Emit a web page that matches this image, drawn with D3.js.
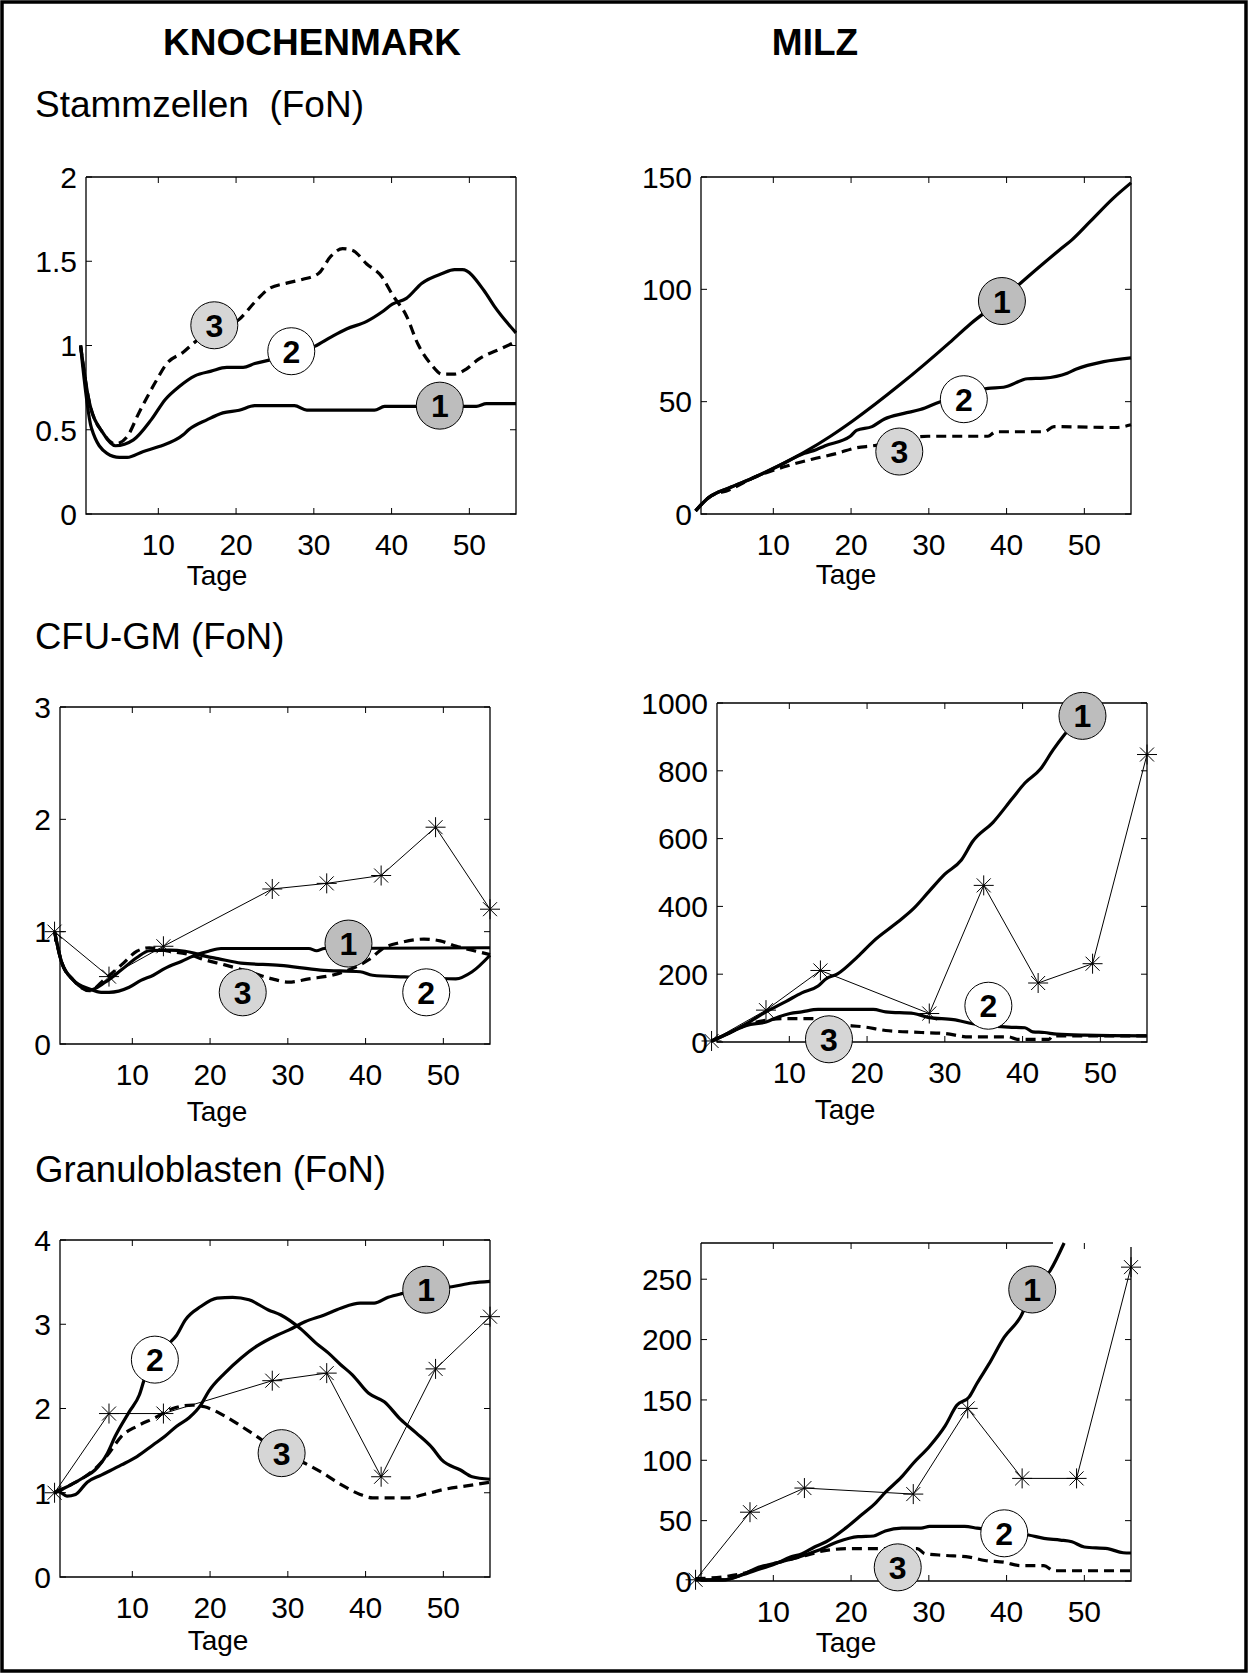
<!DOCTYPE html>
<html><head><meta charset="utf-8">
<script src="https://cdn.jsdelivr.net/npm/d3@7"></script>
<style>
body{margin:0;background:#fff}
svg{display:block}
text{font-family:"Liberation Sans",Arial,Helvetica,sans-serif;fill:#000}
</style>
</head><body>
<svg id="c" width="1250" height="1674"></svg>
<script>
// ---------- data (day, value) ----------
const xTicks = [10, 20, 30, 40, 50];
const starDays = [0, 7, 14, 28, 35, 42, 49, 56];

// Knochenmark – Stammzellen
const kmStamm1 = [[0,1.0],[1.4,0.51],[3.4,0.36],[5,0.336],[6,0.336],[8,0.37],[10.1,0.40],[13.2,0.47],[13.9,0.50],[16.3,0.56],[18.3,0.60],[20.4,0.616],[22.4,0.643],[27.5,0.643],[29.1,0.616],[37.8,0.616],[39.1,0.639],[50.9,0.639],[52.2,0.655],[56,0.655]];
const kmStamm2 = [[0,1.0],[1.1,0.67],[2.9,0.48],[4.5,0.405],[6.8,0.44],[9.1,0.56],[10.9,0.68],[12.7,0.757],[14.7,0.82],[16.8,0.848],[18.8,0.87],[20.9,0.87],[22.4,0.893],[24.5,0.916],[27,0.95],[30.1,0.995],[32.2,1.05],[34.2,1.098],[36.8,1.143],[38.8,1.2],[40.1,1.245],[41.9,1.28],[43.9,1.37],[46.5,1.427],[48.1,1.45],[49.1,1.45],[51.9,1.325],[53.2,1.234],[56,1.075]];
const kmStamm3 = [[0,1.0],[1.1,0.67],[2.9,0.48],[4.5,0.416],[6,0.46],[7.5,0.6],[9.6,0.78],[11.1,0.893],[13.2,0.96],[14.7,1.02],[17,1.09],[20.4,1.155],[22.4,1.257],[24.2,1.336],[26.5,1.37],[28.6,1.393],[30.6,1.427],[32.2,1.53],[33.7,1.575],[35,1.564],[36.8,1.484],[38.8,1.405],[40.1,1.302],[41.9,1.177],[43.4,1.007],[45,0.893],[46.5,0.83],[48.1,0.83],[49.6,0.86],[51.1,0.916],[54.2,0.984],[56,1.023]];
const kmStammTicks = [0, 0.5, 1, 1.5, 2];
const kmStammLabels = [[46.2,0.643],[27.1,0.966],[17.2,1.12]];

// Milz – Stammzellen
const mzStamm1 = [[0,1.4],[1.7,7.3],[4.3,11.6],[7.3,15.9],[10.9,21.8],[14,27.5],[17.3,34.5],[20.2,41.4],[26.3,57.6],[32.7,76.4],[35.3,84.5],[39.4,95.5],[42.7,105.5],[46.8,117.5],[48.4,122],[50.7,130],[53.7,140.5],[56,147.4]];
const mzStamm2 = [[0,1.4],[1.7,7.3],[4.3,11.6],[7.3,15.9],[10.9,21.8],[14,27],[15.5,28.6],[16.6,30.3],[19.9,34.6],[20.7,37.2],[22.7,38.9],[24.3,42.3],[26.8,44.8],[28.9,46.5],[31.4,49.9],[37.6,55.9],[39.6,56.4],[42.7,60.2],[44.8,60.5],[47.8,62.7],[48.9,64.4],[52.5,67.8],[56,69.5]];
const mzStamm3 = [[0,1.4],[1.7,7.3],[4.3,10.7],[7.8,16.7],[11.4,21],[15,24.4],[18.1,26.9],[20.7,29.5],[22.7,30.3],[29.9,34.6],[37.6,34.6],[38.6,36.6],[44.8,36.6],[46.1,38.9],[54,38.5],[56,39.7]];
const mzStammTicks = [0, 50, 100, 150];
const mzStammLabels = [[39.4,94.8],[34.5,51.1],[26.2,27.8]];

// Knochenmark – CFU-GM
const kmCfu1 = [[0,1.0],[0.9,0.73],[2.4,0.57],[4.5,0.49],[6,0.46],[7,0.46],[9.6,0.505],[11.1,0.566],[12.7,0.612],[14.2,0.673],[16.3,0.735],[18.3,0.796],[19.8,0.826],[21.4,0.85],[32.7,0.85],[33.7,0.83],[34.7,0.85],[56,0.857]];
const kmCfu2 = [[0,1.0],[0.9,0.73],[2.4,0.57],[4.5,0.48],[6.5,0.55],[8.6,0.66],[10.6,0.77],[12.2,0.83],[14.7,0.835],[16.8,0.826],[19.5,0.78],[21,0.76],[24,0.72],[29,0.70],[34.2,0.658],[39.3,0.643],[40.9,0.612],[45,0.597],[51.6,0.58],[53.7,0.643],[56,0.79]];
const kmCfu3 = [[0,1.0],[0.9,0.73],[2.4,0.57],[4.5,0.474],[6.5,0.58],[8.6,0.704],[10.6,0.826],[12.2,0.857],[14.7,0.826],[17.3,0.796],[19.3,0.75],[21.9,0.704],[25,0.643],[28,0.58],[30.1,0.551],[32.7,0.58],[35.7,0.612],[37.8,0.658],[40.4,0.75],[42.4,0.857],[44.5,0.903],[47.5,0.934],[49.6,0.918],[51.6,0.872],[54.2,0.826],[56,0.796]];
const kmCfuStars = [1.0, 0.6, 0.87, 1.38, 1.43, 1.5, 1.93, 1.2];
const kmCfuTicks = [0, 1, 2, 3];
const kmCfuLabels = [[37.8,0.894],[47.8,0.46],[24.2,0.46]];

// Milz – CFU-GM
const mzCfu1 = [[0,3],[2.4,28],[4.5,54],[7,89],[9.6,120],[11.6,145],[13.7,165],[14.7,186],[16.2,201],[18.8,252],[20.8,297],[23.9,353],[26,394],[28,445],[30,495],[32.1,536],[33.6,592],[36.2,648],[38.7,719],[40.3,764],[42.3,805],[43.9,861],[45.4,907],[47,950]];
const mzCfu2 = [[0,3],[2.4,28],[4.5,49],[7,59],[8.6,74],[10.1,84],[11.6,89],[13.7,96],[20.8,96],[22.4,89],[26,84],[28,72],[31.1,66],[33.6,54],[38.2,44],[40.3,42],[41.3,30],[42.8,28],[44.4,23],[48,20],[56,18]];
const mzCfu3 = [[0,3],[2.4,28],[4.5,50],[7,64],[9.6,69],[13.2,69],[15.7,54],[19.8,44],[22.4,34],[27,28],[30,25],[33.1,15],[38.2,15],[39.3,8],[43.4,8],[43.9,18],[56,18]];
const mzCfuStars = [3, 94, 211, 84, 462, 174, 231, 848];
const mzCfuTicks = [0, 200, 400, 600, 800, 1000];
const mzCfuLabels = [[47.7,962],[35.6,107],[15.1,8]];

// Knochenmark – Granuloblasten
const kmGran1 = [[0,1.0],[0.4,1.02],[1.6,0.96],[2.7,0.98],[4.2,1.125],[6,1.21],[8.6,1.33],[10.6,1.43],[12.7,1.57],[14.2,1.67],[15.7,1.79],[17.3,1.89],[18.8,2.04],[19.8,2.2],[21.9,2.42],[24,2.6],[26,2.74],[28.6,2.87],[30.1,2.93],[32.2,3.03],[34.7,3.11],[36.8,3.19],[39.3,3.25],[41.1,3.25],[42.9,3.32],[44.5,3.36],[47.8,3.41],[51.1,3.445],[53.7,3.49],[56,3.51]];
const kmGran2 = [[0,1.0],[2.2,1.1],[3.9,1.19],[5.2,1.27],[6.8,1.47],[7.8,1.67],[9.6,1.96],[10.9,2.16],[11.6,2.36],[12.9,2.58],[14.7,2.77],[15.7,2.87],[16.8,3.05],[18.8,3.21],[20.9,3.31],[22.9,3.32],[25,3.29],[27.5,3.17],[29.1,3.11],[31.6,2.95],[33.7,2.77],[35.2,2.66],[36.8,2.52],[38.3,2.4],[40.4,2.18],[42.4,2.08],[44.5,1.87],[46.5,1.71],[48.6,1.53],[49.8,1.39],[52.2,1.27],[53.7,1.19],[56,1.16]];
const kmGran3 = [[0,1.0],[2.2,1.1],[3.9,1.19],[5.5,1.31],[7,1.47],[8.6,1.67],[10.6,1.79],[12.9,1.89],[15.2,2.0],[17.8,2.04],[19.3,2.02],[21.9,1.91],[24,1.79],[26,1.67],[29.2,1.47],[32.2,1.35],[34.2,1.25],[36.8,1.1],[39.3,0.98],[40.9,0.94],[45.5,0.94],[47.5,0.98],[50.1,1.04],[53.2,1.085],[56,1.125]];
const kmGranStars = [1.0, 1.94, 1.94, 2.33, 2.42, 1.19, 2.47, 3.09];
const kmGranTicks = [0, 1, 2, 3, 4];
const kmGranLabels = [[47.8,3.41],[12.9,2.58],[29.2,1.47]];

// Milz – Granuloblasten
const mzGran1 = [[0,0.85],[3.5,0.85],[5.6,4.2],[7.6,8.5],[10.2,14.1],[12.2,19.8],[13.7,22.6],[15.3,28.2],[16.8,32.5],[19.3,43.8],[21.4,55.1],[23.2,65],[24.4,73.4],[26.5,86.2],[28,97.5],[30.1,111.6],[32.1,128.5],[33.6,145.5],[35.2,152.5],[36.2,163.8],[37.7,179.4],[39.7,202],[41.8,218.9],[43.3,240],[45.6,257],[47.4,280]];
const mzGran2 = [[0,0.85],[3.5,0.85],[6.1,5.6],[8.1,11.3],[10.7,15.5],[13.2,19.8],[15.8,25.4],[18.3,32.5],[20.9,36.7],[22.9,37.3],[24.4,41.5],[26.5,43.8],[29,43.8],[30.1,45.2],[34.6,45.2],[36.2,43.8],[39.7,40],[42.8,38.1],[44.8,35.3],[46.9,33.9],[48.4,32.5],[50,28.2],[53,26.8],[55,23.4],[56,23.2]];
const mzGran3 = [[0,2],[3.5,3.4],[6.6,7.1],[9.1,12.7],[11.7,17],[14.2,21.2],[16.8,25.4],[19.8,26.8],[28.5,26.8],[29.5,22.6],[32.1,21.2],[35.2,19.8],[37.2,17],[39.7,15.5],[41.8,12.7],[44.8,12.7],[46.1,8.5],[56,8.5]];
const mzGranStars = [1, 57, 77, 72, 143, 85, 85, 260];
const mzGranTicks = [0, 50, 100, 150, 200, 250];
const mzGranLabels = [[43.3,241.5],[39.7,39.5],[26,11.3]];

// ---------- layout ----------
const panels = [
  {box:[86,177,516,514], ydom:[0,2], yt:kmStammTicks, c:[kmStamm1,kmStamm2,kmStamm3], st:null, lab:kmStammLabels, tage:[217,585]},
  {box:[701,177,1131,514], ydom:[0,150], yt:mzStammTicks, c:[mzStamm1,mzStamm2,mzStamm3], st:null, lab:mzStammLabels, tage:[846,584]},
  {box:[60,707,490,1044], ydom:[0,3], yt:kmCfuTicks, c:[kmCfu1,kmCfu2,kmCfu3], st:kmCfuStars, lab:kmCfuLabels, tage:[217,1121]},
  {box:[717,703,1147,1042], ydom:[0,1000], yt:mzCfuTicks, c:[mzCfu1,mzCfu2,mzCfu3], st:mzCfuStars, lab:mzCfuLabels, tage:[845,1119]},
  {box:[60,1240,490,1577], ydom:[0,4], yt:kmGranTicks, c:[kmGran1,kmGran2,kmGran3], st:kmGranStars, lab:kmGranLabels, tage:[218,1650]},
  {box:[701,1243,1131,1581], ydom:[0,280], yt:mzGranTicks, c:[mzGran1,mzGran2,mzGran3], st:mzGranStars, lab:mzGranLabels, tage:[846,1652], gap:[1053,1247]}
];

const svg = d3.select('#c');
svg.append('rect').attr('x',2).attr('y',2).attr('width',1244).attr('height',1669)
  .attr('fill','#fff').attr('stroke','#000').attr('stroke-width',3.5);

svg.append('text').attr('x',312).attr('y',55).attr('text-anchor','middle')
  .attr('font-weight','bold').attr('font-size',37).text('KNOCHENMARK');
svg.append('text').attr('x',815).attr('y',55).attr('text-anchor','middle')
  .attr('font-weight','bold').attr('font-size',37).text('MILZ');
svg.append('text').attr('x',35).attr('y',117).attr('font-size',37).attr('xml:space','preserve').text('Stammzellen  (FoN)');
svg.append('text').attr('x',35).attr('y',649).attr('font-size',36.5).text('CFU-GM (FoN)');
svg.append('text').attr('x',35).attr('y',1182).attr('font-size',36.5).text('Granuloblasten (FoN)');

const labelFill = ['#bdbdbd', '#ffffff', '#d6d6d6'];

panels.forEach(p => {
  const [x0,y0,x1,y1] = p.box;
  const x = d3.scaleLinear().domain([0.7,56]).range([x0,x1]);
  const y = d3.scaleLinear().domain(p.ydom).range([y1,y0]);
  const g = svg.append('g');
  const tl = 6;

  // box
  const topEnd = p.gap ? p.gap[0] : x1;
  const rightStart = p.gap ? p.gap[1] : y0;
  const bp = `M${x0},${y0}H${topEnd} M${x1},${rightStart}V${y1}H${x0}V${y0}`;
  g.append('path').attr('d',bp).attr('fill','none').attr('stroke','#000').attr('stroke-width',1.3);

  // ticks inside
  xTicks.forEach(t => {
    g.append('line').attr('x1',x(t)).attr('x2',x(t)).attr('y1',y1).attr('y2',y1-tl).attr('stroke','#000');
    g.append('line').attr('x1',x(t)).attr('x2',x(t)).attr('y1',y0).attr('y2',y0+tl).attr('stroke','#000');
    g.append('text').attr('x',x(t)).attr('y',y1+41).attr('text-anchor','middle').attr('font-size',30).text(t);
  });
  p.yt.forEach(t => {
    g.append('line').attr('x1',x0).attr('x2',x0+tl).attr('y1',y(t)).attr('y2',y(t)).attr('stroke','#000');
    if (!(p.gap && y(t) < p.gap[1]))
      g.append('line').attr('x1',x1).attr('x2',x1-tl).attr('y1',y(t)).attr('y2',y(t)).attr('stroke','#000');
    g.append('text').attr('x',x0-9).attr('y',y(t)).attr('dy','0.36em').attr('text-anchor','end').attr('font-size',30).text(String(t));
  });
  g.append('text').attr('x',p.tage[0]).attr('y',p.tage[1]).attr('text-anchor','middle').attr('font-size',28).text('Tage');

  // model curves
  const line = d3.line().x(d=>x(d[0])).y(d=>y(d[1])).curve(d3.curveMonotoneX);
  p.c.forEach((data,i) => {
    g.append('path').attr('d',line(data)).attr('fill','none').attr('stroke','#000')
      .attr('stroke-width',3.2).attr('stroke-linejoin','round')
      .attr('stroke-dasharray', i===2 ? '10,6' : null);
  });

  // experimental data
  if (p.st) {
    const pts = starDays.map((d,i)=>[d,p.st[i]]);
    g.append('path').attr('d',d3.line().x(d=>x(d[0])).y(d=>y(d[1]))(pts))
      .attr('fill','none').attr('stroke','#000').attr('stroke-width',1);
    const star = 'M-10,0H10M0,-10V10M-7,-7L7,7M-7,7L7,-7';
    g.selectAll(null).data(pts).enter().append('path')
      .attr('transform',d=>`translate(${x(d[0])},${y(d[1])})`)
      .attr('d',star).attr('stroke','#000').attr('stroke-width',1).attr('fill','none');
  }

  // circle labels
  p.lab.forEach((d,i) => {
    const cx = x(d[0]), cy = y(d[1]);
    g.append('circle').attr('cx',cx).attr('cy',cy).attr('r',23.5)
      .attr('fill',labelFill[i]).attr('stroke','#000').attr('stroke-width',1);
    g.append('text').attr('x',cx).attr('y',cy).attr('dy','0.36em').attr('text-anchor','middle')
      .attr('font-weight','bold').attr('font-size',32).text(i+1);
  });
});
</script>
</body></html>
